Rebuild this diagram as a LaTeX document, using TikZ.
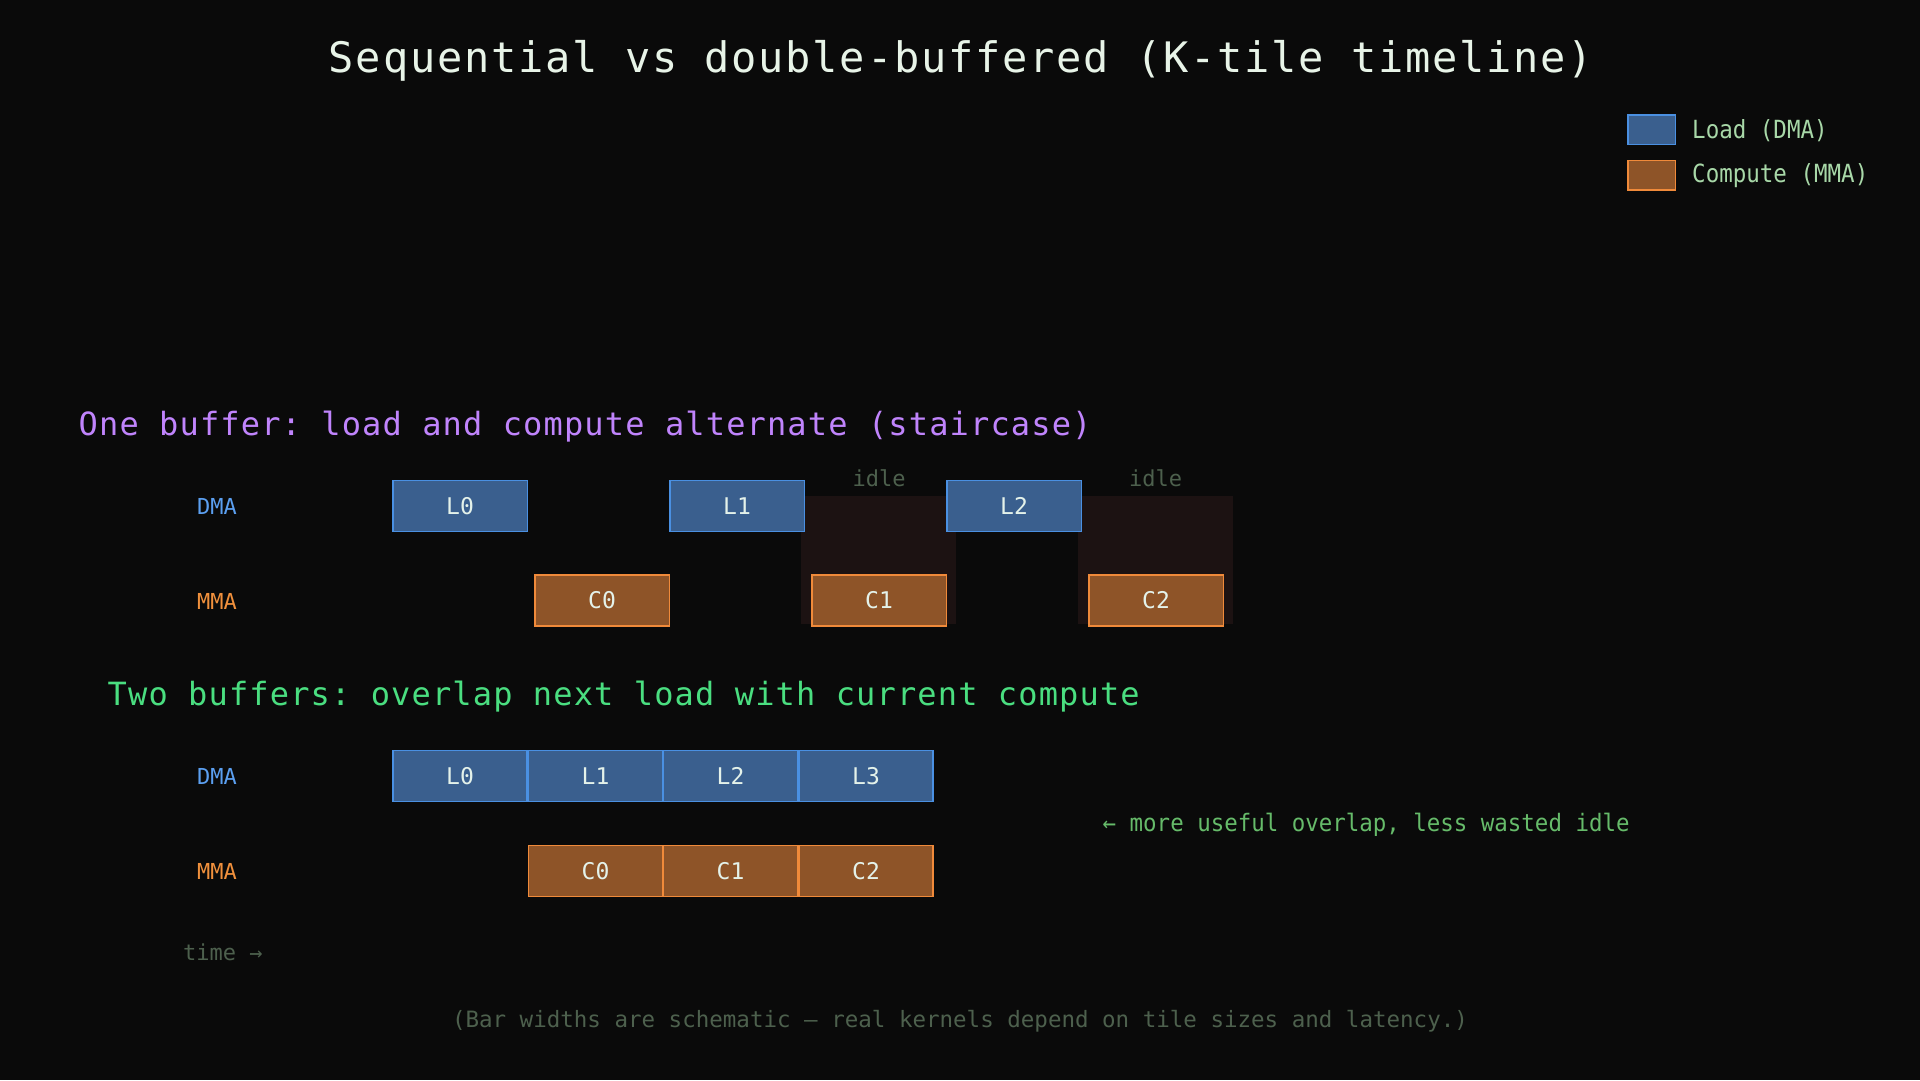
\documentclass[tikz,border=0pt]{standalone}
\usepackage{fontspec}
\setmonofont{DejaVu Sans Mono}
\newfontfamily\titlefam[LetterSpace=4.3]{DejaVu Sans Mono}
\newfontfamily\headfam[LetterSpace=3.6]{DejaVu Sans Mono}
\newfontfamily\plainfam{DejaVu Sans Mono}
\newfontfamily\legfam[FakeStretch=0.9]{DejaVu Sans Mono}
\newfontfamily\notefam[FakeStretch=0.935]{DejaVu Sans Mono}
\definecolor{bg}{HTML}{0A0A0A}
\definecolor{titlec}{HTML}{E8F4E8}
\definecolor{headA}{HTML}{C084FC}
\definecolor{headB}{HTML}{4ADE80}
\definecolor{dmac}{HTML}{5B9FF0}
\definecolor{mmac}{HTML}{F0903C}
\definecolor{bluef}{HTML}{3A5F8E}
\definecolor{blued}{HTML}{4A90E2}
\definecolor{orf}{HTML}{8E5428}
\definecolor{ord}{HTML}{F08A3A}
\definecolor{boxtxt}{HTML}{E4F2EA}
\definecolor{idlef}{HTML}{1C1212}
\definecolor{dimc}{HTML}{4D604D}
\definecolor{notec}{HTML}{66BB6A}
\definecolor{legc}{HTML}{A8D8A8}
\tikzset{
  loadbox/.style={draw=blued, fill=bluef, line width=1.5pt, inner sep=0pt,
    minimum height=51pt, text=boxtxt, font=\plainfam\fontsize{23}{28}\selectfont},
  compbox/.style={draw=ord, fill=orf, line width=1.5pt, inner sep=0pt,
    minimum height=51pt, text=boxtxt, font=\plainfam\fontsize{23}{28}\selectfont},
  rowA/.style={minimum width=134.5pt},
  rowB/.style={minimum width=134pt},
  lanelbl/.style={inner sep=0pt, anchor=base, font=\plainfam\fontsize{22}{26}\selectfont},
  idlelbl/.style={inner sep=0pt, anchor=base, text=dimc, font=\plainfam\fontsize{22}{26}\selectfont},
  idlezone/.style={fill=idlef, draw=none},
  headlbl/.style={inner sep=0pt, anchor=base west, font=\headfam\fontsize{32}{38}\selectfont},
  legsw/.style={line width=1.5pt, inner sep=0pt, minimum width=47.5pt, minimum height=29.5pt},
  legtxt/.style={inner sep=0pt, anchor=base west, text=legc, font=\legfam\fontsize{25}{30}\selectfont},
}
\begin{document}
\frenchspacing
\begin{tikzpicture}[x=1pt,y=-1pt]
\fill[bg] (0,0) rectangle (1920,1080);
\useasboundingbox (0,0) rectangle (1920,1080);

% title
\node[inner sep=0pt, anchor=base, text=titlec, font=\titlefam\fontsize{42}{50}\selectfont]
  (title) at (961,72) {Sequential vs double-buffered (K-tile timeline)};

% legend
\node[legsw, draw=blued, fill=bluef] (swload) at (1651.5,129.5) {};
\node[legsw, draw=ord, fill=orf] (swcomp) at (1651.5,175) {};
\node[legtxt] (legload) at (1692,138) {Load (DMA)};
\node[legtxt] (legcomp) at (1692,182) {Compute (MMA)};

% section 1
\node[headlbl, text=headA] (headA) at (78.5,435) {One buffer: load and compute alternate (staircase)};
\node[lanelbl, text=dmac] (dmaA) at (217,514) {DMA};
\node[lanelbl, text=mmac] (mmaA) at (217,609.5) {MMA};

\fill[idlezone] (801,496) rectangle (956,624);
\fill[idlezone] (1078,496) rectangle (1233,624);
\node[idlelbl] (idleA) at (879,486) {idle};
\node[idlelbl] (idleB) at (1155.5,486) {idle};

\node[loadbox, rowA] (a0) at (460,506) {L0};
\node[loadbox, rowA] (a1) at (737,506) {L1};
\node[loadbox, rowA] (a2) at (1014,506) {L2};
\node[compbox, rowA] (c0) at (602,600.5) {C0};
\node[compbox, rowA] (c1) at (879,600.5) {C1};
\node[compbox, rowA] (c2) at (1156,600.5) {C2};

% section 2
\node[headlbl, text=headB] (headB) at (107.5,705) {Two buffers: overlap next load with current compute};
\node[lanelbl, text=dmac] (dmaB) at (217,784) {DMA};
\node[lanelbl, text=mmac] (mmaB) at (217,879) {MMA};

\node[loadbox, rowB] (b0) at (460,776) {L0};
\node[loadbox, rowB] (b1) at (595.5,776) {L1};
\node[loadbox, rowB] (b2) at (730.5,776) {L2};
\node[loadbox, rowB] (b3) at (866,776) {L3};
\node[compbox, rowB] (d0) at (595.5,871) {C0};
\node[compbox, rowB] (d1) at (730.5,871) {C1};
\node[compbox, rowB] (d2) at (866,871) {C2};

\node[inner sep=0pt, anchor=base west, text=notec, font=\notefam\fontsize{24}{28}\selectfont]
  (note) at (1102.5,831) {← more useful overlap, less wasted idle};

\node[inner sep=0pt, anchor=base west, text=dimc, font=\plainfam\fontsize{22}{26}\selectfont]
  (time) at (183,960) {time →};

\node[inner sep=0pt, anchor=base, text=dimc, font=\plainfam\fontsize{22.5}{27}\selectfont]
  (foot) at (960,1027.5) {(Bar widths are schematic — real kernels depend on tile sizes and latency.)};
\end{tikzpicture}
\end{document}
